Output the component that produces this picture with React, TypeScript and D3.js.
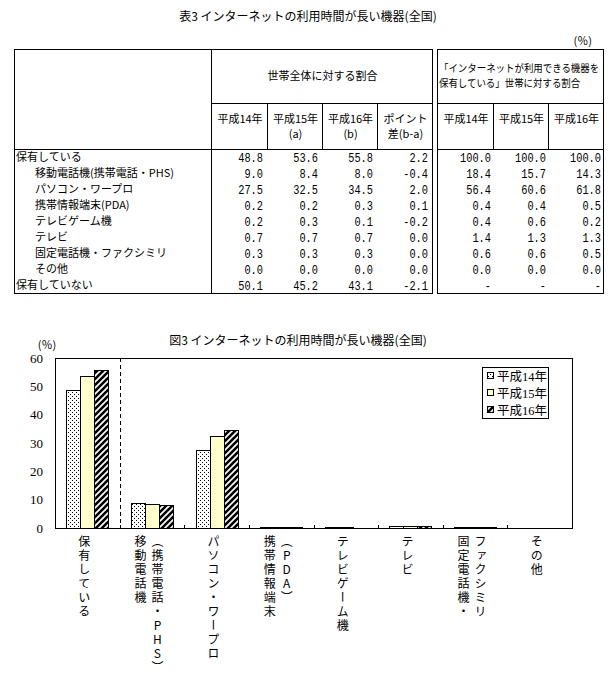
import React from 'react';
import * as d3 from 'd3';

// ---------- data ----------
const years = ['平成14年', '平成15年', '平成16年'];

const rowLabels = [
  '保有している',
  '移動電話機(携帯電話・PHS)',
  'パソコン・ワープロ',
  '携帯情報端末(PDA)',
  'テレビゲーム機',
  'テレビ',
  '固定電話機・ファクシミリ',
  'その他',
  '保有していない',
];
const rowIndent = [false, true, true, true, true, true, true, true, false];

const whole14 = [48.8, 9.0, 27.5, 0.2, 0.2, 0.7, 0.3, 0.0, 50.1];
const whole15 = [53.6, 8.4, 32.5, 0.2, 0.3, 0.7, 0.3, 0.0, 45.2];
const whole16 = [55.8, 8.0, 34.5, 0.3, 0.1, 0.7, 0.3, 0.0, 43.1];
const pointDiff = ['2.2', '-0.4', '2.0', '0.1', '-0.2', '0.0', '0.0', '0.0', '-2.1'];
const owner14 = ['100.0', '18.4', '56.4', '0.4', '0.4', '1.4', '0.6', '0.0', '-'];
const owner15 = ['100.0', '15.7', '60.6', '0.4', '0.6', '1.3', '0.6', '0.0', '-'];
const owner16 = ['100.0', '14.3', '61.8', '0.5', '0.2', '1.3', '0.5', '0.0', '-'];

const headTop1 = ['平成14年', '平成15年', '平成16年', 'ポイント'];
const headBot1 = ['', '(a)', '(b)', '差(b-a)'];
const headRight = ['「インターネットが利用できる機器を', '保有している」世帯に対する割合'];

const chartCategories = [
  ['保有している'],
  ['移動電話機', '（携帯電話・PHS）'],
  ['パソコン・ワープロ'],
  ['携帯情報端末', '（PDA）'],
  ['テレビゲーム機'],
  ['テレビ'],
  ['固定電話機・', 'ファクシミリ'],
  ['その他'],
];
const chart14 = whole14.slice(0, 8);
const chart15 = whole15.slice(0, 8);
const chart16 = whole16.slice(0, 8);
const yTicks = [0, 10, 20, 30, 40, 50, 60];

const tableTitle = '表3  インターネットの利用時間が長い機器(全国)';
const chartTitle = '図3  インターネットの利用時間が長い機器(全国)';

// ---------- styles ----------
const GOTHIC = '"Noto Sans CJK JP", sans-serif';
const MONO = '"Liberation Mono", "DejaVu Sans Mono", monospace';
const MINCHO_DIGITS = '"Liberation Serif", "Noto Sans CJK JP", serif';

export default function App() {
  // table geometry
  const tL = 14, tT = 49, tSub = 103, tData = 149, rowH = 16;
  const tB = tData + rowH * rowLabels.length;
  const sec1 = [211, 267, 322, 377, 432];
  const sec2 = [437, 493, 548, 603];

  const numCols1 = [whole14.map((v) => v.toFixed(1)), whole15.map((v) => v.toFixed(1)), whole16.map((v) => v.toFixed(1)), pointDiff];
  const numCols2 = [owner14, owner15, owner16];

  // chart geometry
  const pL = 55, pR = 572, pT = 358, pB = 528;
  const y = d3.scaleLinear().domain([0, 60]).range([pB, pT]);
  const x = d3.scaleBand<number>().domain(d3.range(chartCategories.length)).range([pL, pR]);
  const inner = d3.scaleBand<string>().domain(years).range([-21, 21]);
  const series = [chart14, chart15, chart16];
  const fills = ['url(#dots)', '#FFFFCC', 'url(#stripes)'];

  const num = (key: string, v: string, xr: number, yb: number) => (
    <text key={key} transform={`translate(${xr},${yb}) scale(0.86,1)`} textAnchor="end">{v}</text>
  );

  return (
    <svg width={615} height={676} style={{ position: 'absolute', left: 0, top: 0, background: '#fff' }}>
      <defs>
        <pattern id="dots" width={4} height={4} patternUnits="userSpaceOnUse">
          <rect width={4} height={4} fill="#fff" />
          <rect x={0} y={0} width={1} height={1} fill="#000" />
          <rect x={2} y={2} width={1} height={1} fill="#000" />
        </pattern>
        <pattern id="stripes" width={6} height={6} patternUnits="userSpaceOnUse">
          <rect width={6} height={6} fill="#fff" />
          <path d="M-1,1 l2,-2 M0,6 l6,-6 M5,7 l2,-2" stroke="#000" strokeWidth={2.6} />
        </pattern>
      </defs>

      {/* ---------------- Table ---------------- */}
      <text x={308} y={21} textAnchor="middle" fontFamily={GOTHIC} fontSize={12}>{tableTitle}</text>
      <text x={592} y={45} textAnchor="end" fontFamily={GOTHIC} fontSize={11}>(％)</text>

      <g stroke="#000" strokeWidth={1} fill="none" shapeRendering="crispEdges">
        <rect x={tL + 0.5} y={tT + 0.5} width={sec1[4] - tL} height={tB - tT} />
        <rect x={sec2[0] + 0.5} y={tT + 0.5} width={sec2[3] - sec2[0]} height={tB - tT} />
        <line x1={sec1[0] + 0.5} x2={sec1[0] + 0.5} y1={tT} y2={tB} />
        <line x1={sec1[0]} x2={sec1[4]} y1={tSub + 0.5} y2={tSub + 0.5} />
        <line x1={sec2[0]} x2={sec2[3]} y1={tSub + 0.5} y2={tSub + 0.5} />
        <line x1={tL} x2={sec1[4]} y1={tData + 0.5} y2={tData + 0.5} />
        <line x1={sec2[0]} x2={sec2[3]} y1={tData + 0.5} y2={tData + 0.5} />
        {sec1.slice(1, 4).map((cx) => (
          <line key={'v1' + cx} x1={cx + 0.5} x2={cx + 0.5} y1={tSub} y2={tData} />
        ))}
        {sec2.slice(1, 3).map((cx) => (
          <line key={'v2' + cx} x1={cx + 0.5} x2={cx + 0.5} y1={tSub} y2={tData} />
        ))}
      </g>

      <g fontFamily={GOTHIC} fontSize={11} fill="#000">
        <text x={(sec1[0] + sec1[4]) / 2 + 1} y={80} textAnchor="middle">世帯全体に対する割合</text>
        {headRight.map((t, i) => (
          <text key={'hr' + i} transform={`translate(439,${72 + i * 15}) scale(0.9,1)`} fontSize={10.5}>{t}</text>
        ))}
        {headTop1.map((t, i) => (
          <text key={'h1' + i} x={(sec1[i] + sec1[i + 1]) / 2 + 1} y={123} textAnchor="middle">{t}</text>
        ))}
        {headBot1.map((t, i) => (
          <text key={'h1b' + i} x={(sec1[i] + sec1[i + 1]) / 2 + 1} y={138} textAnchor="middle">{t}</text>
        ))}
        {years.map((t, i) => (
          <text key={'h2' + i} x={(sec2[i] + sec2[i + 1]) / 2 + 1} y={123} textAnchor="middle">{t}</text>
        ))}
        {rowLabels.map((t, i) => (
          <text key={'rl' + i} x={rowIndent[i] ? 35 : 16} y={tData + rowH * i + 12}>{t}</text>
        ))}
      </g>

      <g fontFamily={MONO} fontSize={12} fill="#000">
        {numCols1.map((col, c) =>
          col.map((v, i) => num(`n1-${c}-${i}`, v, sec1[c + 1] - 4, tData + rowH * i + 12.5))
        )}
        {numCols2.map((col, c) =>
          col.map((v, i) => num(`n2-${c}-${i}`, v, sec2[c + 1] - 2, tData + rowH * i + 12.5))
        )}
      </g>

      {/* ---------------- Chart ---------------- */}
      <text x={298} y={345} textAnchor="middle" fontFamily={GOTHIC} fontSize={12}>{chartTitle}</text>
      <text x={47} y={349} textAnchor="middle" fontFamily={GOTHIC} fontSize={11}>(％)</text>

      {yTicks.map((t) => (
        <text key={'yt' + t} x={43} y={y(t) + 4.5} textAnchor="end" fontFamily={MINCHO_DIGITS} fontSize={13}>{t}</text>
      ))}

      {/* bars */}
      {series.map((vals, s) =>
        vals.map((v, i) => {
          const bx = (x(i) as number) + x.bandwidth() / 2 + (inner(years[s]) as number);
          const top = y(v);
          return (
            <rect key={`b-${s}-${i}`} x={bx + 0.5} y={top + 0.5} width={inner.bandwidth()} height={Math.max(0, pB - top)}
              fill={fills[s]} stroke="#000" strokeWidth={1} shapeRendering="crispEdges" />
          );
        })
      )}

      {/* plot frame */}
      <rect x={pL + 0.5} y={pT + 0.5} width={pR - pL} height={pB - pT} fill="none" stroke="#000" strokeWidth={1} shapeRendering="crispEdges" />
      {/* dashed separator */}
      <line x1={(x(1) as number) + 0.5} x2={(x(1) as number) + 0.5} y1={pT} y2={pB} stroke="#000" strokeDasharray="4,3" shapeRendering="crispEdges" />
      {/* category ticks */}
      {d3.range(1, chartCategories.length).map((i) => (
        <line key={'xt' + i} x1={(x(i) as number) + 0.5} x2={(x(i) as number) + 0.5} y1={pB - 3} y2={pB} stroke="#000" shapeRendering="crispEdges" />
      ))}

      {/* vertical category labels */}
      {chartCategories.map((cols, i) => {
        const cx = (x(i) as number) + x.bandwidth() / 2 - 3;
        const gap = 17;
        const start = cx - ((cols.length - 1) * gap) / 2;
        return cols.map((c, j) => (
          <text key={`cl-${i}-${j}`} x={start + j * gap} y={535} fontFamily={GOTHIC} fontSize={12}
            style={{ writingMode: 'vertical-rl', textOrientation: 'upright', letterSpacing: '2px' } as any}>{c}</text>
        ));
      })}

      {/* legend */}
      <rect x={482.5} y={367.5} width={66} height={51} fill="#fff" stroke="#000" strokeWidth={1} shapeRendering="crispEdges" />
      {years.map((yr, i) => (
        <g key={'lg' + i}>
          <rect x={487.5} y={372.5 + i * 17} width={6} height={6} fill={fills[i]} stroke="#000" strokeWidth={1} shapeRendering="crispEdges" />
          <text x={497} y={380.5 + i * 17} fontFamily={MINCHO_DIGITS} fontSize={12.5}>{yr}</text>
        </g>
      ))}
    </svg>
  );
}
